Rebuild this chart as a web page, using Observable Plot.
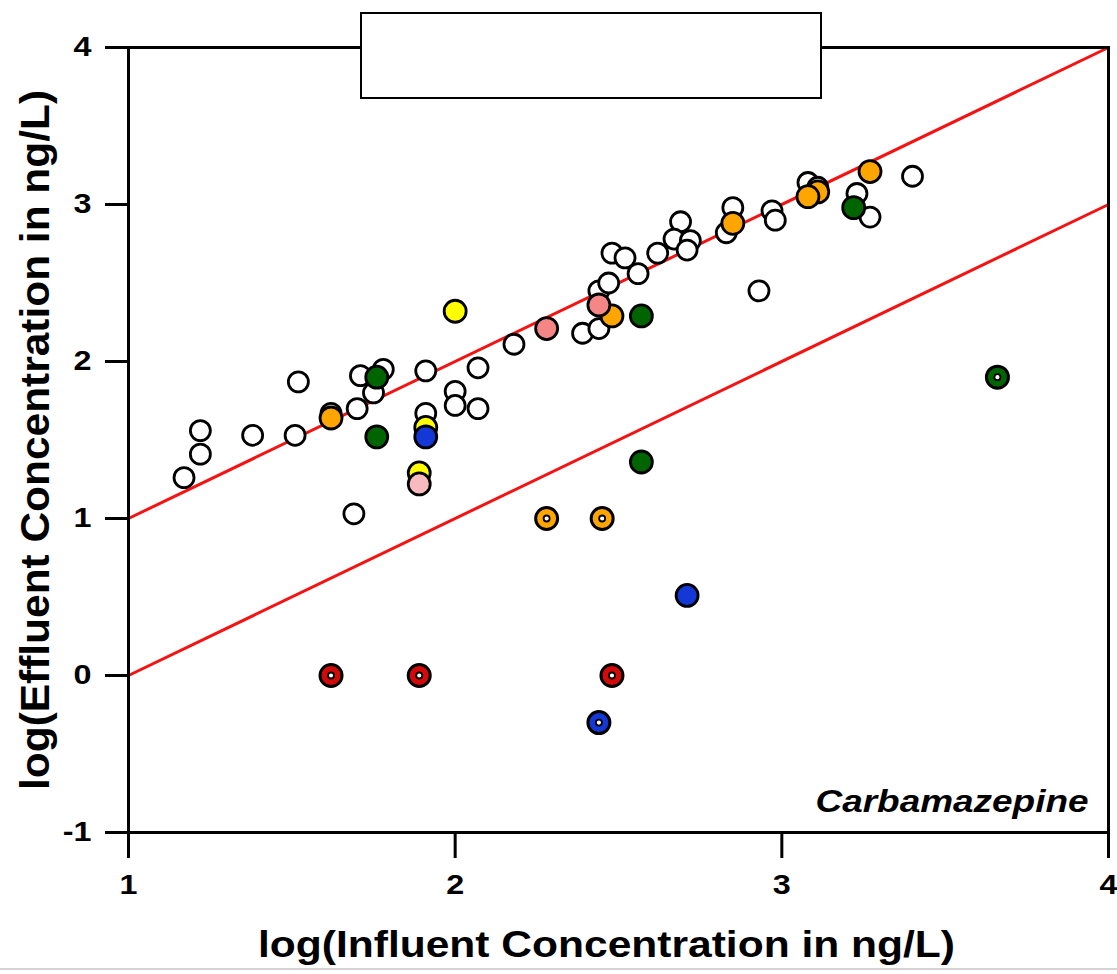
<!DOCTYPE html>
<html><head><meta charset="utf-8">
<script src="https://cdn.jsdelivr.net/npm/d3@7"></script>
<script src="https://cdn.jsdelivr.net/npm/@observablehq/plot@0.6"></script>
<style>
body{margin:0;background:#fff;}
#wrap{position:relative;width:1117px;height:974px;overflow:hidden;font-family:"Liberation Sans",Arial,sans-serif;}
#box{position:absolute;left:360px;top:12px;width:462px;height:87px;border:2px solid #000;background:#fff;box-sizing:border-box;}
#edge{position:absolute;left:0;top:968px;width:1117px;height:2px;background:#d4d4d4;}
</style></head><body><div id="wrap"></div>
<script>
// ---- data (log10 ng/L) ----
const xTicks = [1, 2, 3, 4];
const yTicks = [-1, 0, 1, 2, 3, 4];
const xTitle = "log(Influent Concentration in ng/L)";
const yTitle = "log(Effluent Concentration in ng/L)";
const compound = "Carbamazepine";

// reference lines y = x + offset (1:1 and 10:1 removal)
const lineXs = [1, 4];
const lineOffsets = [0, -1];

// open (white) points
const openX = [1.17,1.22,1.22,1.38,1.52,1.51,1.62,1.71,1.70,1.69,1.78,1.75,1.91,1.91,2.00,2.00,2.07,2.07,2.18,2.39,2.44,2.44,2.47,2.48,2.52,2.56,2.62,2.69,2.67,2.72,2.71,2.85,2.83,2.97,2.98,2.93,3.08,3.11,3.23,3.27,3.40];
const openY = [1.26,1.41,1.56,1.53,1.87,1.53,1.67,1.91,1.70,1.03,1.95,1.80,1.94,1.67,1.81,1.72,1.70,1.96,2.11,2.18,2.21,2.45,2.50,2.69,2.66,2.56,2.69,2.89,2.78,2.77,2.71,2.98,2.82,2.96,2.90,2.45,3.14,3.11,3.07,2.92,3.18];

// filled points by group
const groupNames = ["Group Y", "Group O", "Group G", "Group B", "Group S", "Group P", "Group R"];
const groupColors = ["#ffff00", "#ffa500", "#006400", "#1438d6", "#f48686", "#f8babe", "#d20a0a"];

const yellowX = [2.00, 1.91, 1.89];
const yellowY = [2.32, 1.58, 1.29];
const orangeX = [1.62, 2.48, 2.85, 3.11, 3.08, 3.27];
const orangeY = [1.64, 2.29, 2.88, 3.08, 3.05, 3.21];
const greenX = [1.76, 1.76, 2.57, 2.57, 3.22];
const greenY = [1.90, 1.52, 2.29, 1.36, 2.98];
const blueX = [1.91, 2.71];
const blueY = [1.52, 0.51];
const salmonX = [2.28, 2.44];
const salmonY = [2.21, 2.36];
const pinkX = [1.89];
const pinkY = [1.22];

// below-detection (ringed) points
const ringGroup = ["Group O", "Group O", "Group R", "Group R", "Group R", "Group B", "Group G"];
const ringX = [2.28, 2.45, 1.62, 1.89, 2.48, 2.44, 3.66];
const ringY = [1.00, 1.00, 0.00, 0.00, 0.00, -0.30, 1.90];

// ---- tables ----
const lineData = lineOffsets.flatMap(k => lineXs.map(x => ({x, y: x + k, k})));
const openData = openX.map((x, i) => ({x, y: openY[i]}));
const toRows = (g, xs, ys) => xs.map((x, i) => ({x, y: ys[i], group: g}));
const filledData = [
  ...toRows("Group Y", yellowX, yellowY),
  ...toRows("Group O", orangeX, orangeY),
  ...toRows("Group G", greenX, greenY),
  ...toRows("Group B", blueX, blueY),
  ...toRows("Group S", salmonX, salmonY),
  ...toRows("Group P", pinkX, pinkY)
];
const ringData = ringX.map((x, i) => ({x, y: ringY[i], group: ringGroup[i]}));

const font = '"Liberation Sans", Arial, Helvetica, sans-serif';

const chart = Plot.plot({
  width: 1117, height: 974,
  marginLeft: 128, marginRight: 9, marginTop: 47, marginBottom: 142,
  x: {domain: [1, 4]},
  y: {domain: [-1, 4]},
  color: {domain: groupNames, range: groupColors},
  style: {fontFamily: font, fontWeight: "bold", fontSize: "27px", color: "#000", background: "transparent", overflow: "visible"},
  marks: [
    Plot.line(lineData, {x: "x", y: "y", z: "k", stroke: "#f51212", strokeWidth: 3}),
    Plot.frame({stroke: "#000", strokeWidth: 3}),
    Plot.axisX({ticks: xTicks, tickSize: 26, tickFormat: () => "", strokeWidth: 3, label: null}),
    Plot.axisY({ticks: yTicks, tickSize: 23, tickFormat: () => "", strokeWidth: 3, label: null}),
    Plot.text(xTicks, {x: d => d, text: d => String(d), frameAnchor: "bottom", dy: 53, textAnchor: "middle", lineAnchor: "middle", fontSize: 27, fontWeight: "bold"}),
    Plot.text(yTicks, {y: d => d, text: d => String(d), frameAnchor: "left", dx: -37, textAnchor: "end", lineAnchor: "middle", fontSize: 27, fontWeight: "bold"}),
    Plot.dot(openData, {x: "x", y: "y", r: 10, fill: "#fff", stroke: "#000", strokeWidth: 2.8}),
    Plot.dot(filledData, {x: "x", y: "y", r: 11, fill: "group", stroke: "#000", strokeWidth: 2.8}),
    Plot.dot(ringData, {x: "x", y: "y", r: 11, fill: "group", stroke: "#000", strokeWidth: 3}),
    Plot.dot(ringData, {x: "x", y: "y", r: 3, fill: "#fff", stroke: "#000", strokeWidth: 1.8}),
    Plot.text([compound], {frameAnchor: "bottom-right", dx: -20, dy: -21, textAnchor: "end", lineAnchor: "bottom", fontStyle: "italic", fontWeight: "bold", fontSize: 31}),
    Plot.text([xTitle], {frameAnchor: "bottom", dx: -12, dy: 113, textAnchor: "middle", lineAnchor: "middle", fontWeight: "bold", fontSize: 36}),
    Plot.text([yTitle], {frameAnchor: "left", dx: -92, rotate: -90, textAnchor: "middle", lineAnchor: "middle", fontWeight: "bold", fontSize: 40})
  ]
});

const wrap = document.getElementById("wrap");
wrap.appendChild(chart);
const box = document.createElement("div"); box.id = "box"; wrap.appendChild(box);
const edge = document.createElement("div"); edge.id = "edge"; wrap.appendChild(edge);

// horizontal stretch of texts, like the reference
const svg = d3.select(chart);
const tickLabels = new Set([...xTicks, ...yTicks].map(String));
const textLengths = {[xTitle]: 697, [yTitle]: 700, [compound]: 273};
svg.selectAll("text").each(function () {
  const t = this.textContent;
  if (textLengths[t]) {
    this.setAttribute("textLength", textLengths[t]);
    this.setAttribute("lengthAdjust", "spacingAndGlyphs");
  } else if (tickLabels.has(t)) {
    const len = this.getComputedTextLength();
    if (len > 0) {
      this.setAttribute("textLength", (len * 1.2).toFixed(1));
      this.setAttribute("lengthAdjust", "spacingAndGlyphs");
    }
  }
});
</script>
</body></html>
